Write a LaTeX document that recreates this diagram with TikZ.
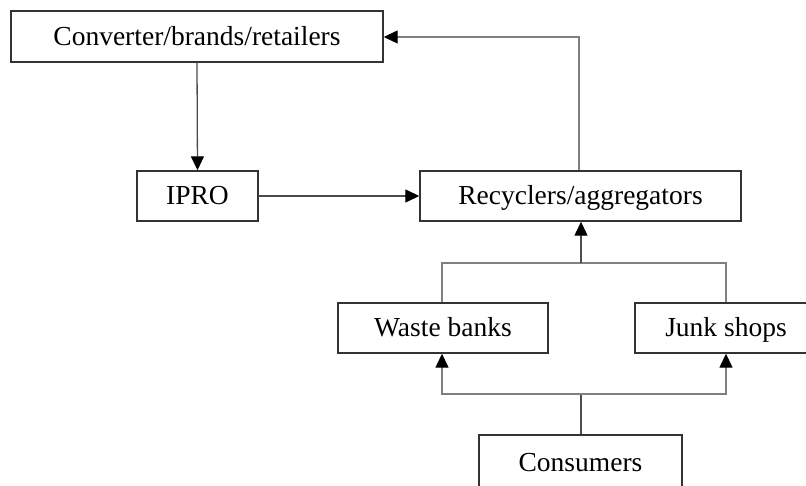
\documentclass[tikz,border=0pt]{standalone}
\usepackage{fontspec}
\setmainfont{Liberation Serif}
\usetikzlibrary{arrows.meta}
\begin{document}
\begin{tikzpicture}[x=1pt,y=-1pt,
  box/.style={draw=black!80,line width=1.4pt,fill=white,inner sep=0pt,font=\fontsize{27.5}{30}\selectfont,text=black,text height=20pt,text depth=2pt},
  conn/.style={draw=black!70,line width=1.3pt},
  lconn/.style={draw=black!50,line width=1.3pt},
  tip/.style={-{Triangle[length=14pt,width=13pt,color=black]}}]
\useasboundingbox (0,0) rectangle (806,486);
\node[box,minimum width=372pt,minimum height=51pt] (conv) at (197,36.5) {Converter/brands/retailers};
\node[box,minimum width=121pt,minimum height=50pt] (ipro) at (197.5,196) {IPRO};
\node[box,minimum width=321pt,minimum height=50pt] (rec) at (580.5,196) {Recyclers/aggregators};
\node[box,minimum width=210pt,minimum height=50pt] (waste) at (443,328) {Waste banks};
\node[box,minimum width=182pt,minimum height=50pt] (junk) at (726,328) {Junk shops};
\node[box,minimum width=203pt,minimum height=54pt] (cons) at (580.5,462) {Consumers};
\coordinate (rtop) at (579,37);
\coordinate (trw) at (442,263);
\coordinate (trj) at (726,263);
\coordinate (trc) at (581,263);
\coordinate (bw) at (442,394);
\coordinate (bj) at (726,394);
\coordinate (bc) at (581,394);
% Converter -> IPRO
\draw[conn,tip] (conv.south) -- (ipro.north);
% IPRO -> Recyclers
\draw[conn,tip] (ipro.east) -- (rec.west);
% Recyclers -> Converter
\draw[lconn,tip] (rec.north -| rtop) -- (rtop) -- (conv.east |- rtop);
% Waste banks / Junk shops -> Recyclers
\draw[lconn] (waste.north -| trw) -- (trw) -- (trj) -- (junk.north -| trj);
\draw[conn,tip] (trc) -- (rec.south -| trc);
% Consumers -> Waste banks / Junk shops
\draw[conn] (cons.north -| bc) -- (bc);
\draw[lconn,tip] (bc) -- (bw) -- (waste.south -| bw);
\draw[lconn,tip] (bc) -- (bj) -- (junk.south -| bj);
\end{tikzpicture}
\end{document}
